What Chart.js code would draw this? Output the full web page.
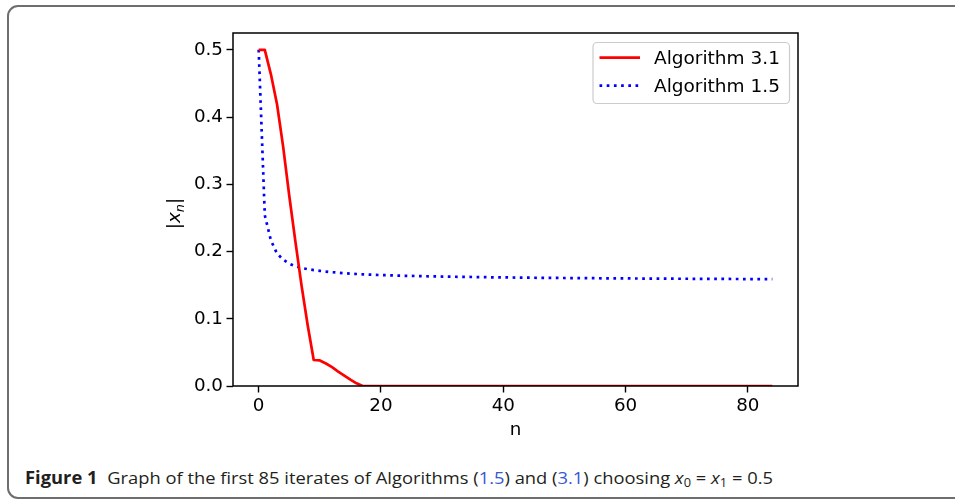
<!DOCTYPE html>
<html><head><meta charset="utf-8">
<script src="https://cdn.jsdelivr.net/npm/chart.js@4.4.0/dist/chart.umd.min.js"></script>
<style>
html,body{margin:0;padding:0;background:#fff;width:955px;height:501px;overflow:hidden;}
#frame{position:absolute;left:7px;top:5px;width:980px;height:494px;border:2px solid #6e6e6e;border-radius:11px;box-sizing:border-box;}
#c{position:absolute;left:0;top:0;}
#cap{position:absolute;left:25px;top:467.5px;font-family:"Liberation Sans Narrow","Open Sans",sans-serif;font-size:17px;line-height:20px;color:#231f20;white-space:nowrap;transform-origin:0 0;}
#cap b{margin-right:9px;}
#cap .bl{color:#3a56d4;}
#cap sub{font-size:70%;vertical-align:-0.25em;line-height:0;}
</style></head>
<body>
<div id="frame"></div>
<canvas id="c" width="955" height="460"></canvas>
<div id="cap"><b>Figure 1</b>Graph of the first 85 iterates of Algorithms (<span class="bl">1.5</span>) and (<span class="bl">3.1</span>) choosing <i>x</i><sub>0</sub> = <i>x</i><sub>1</sub> = 0.5</div>
<script>
// ---- data ----
const iterN = Array.from({length: 85}, (_, i) => i);
const alg31 = [0.5, 0.5, 0.4635, 0.419, 0.356, 0.283, 0.215, 0.150, 0.091, 0.0387,
  0.038, 0.0335, 0.028, 0.0215, 0.0155, 0.0095, 0.004, 0, 0, 0,
  0, 0, 0, 0, 0, 0, 0, 0, 0, 0,
  0, 0, 0, 0, 0, 0, 0, 0, 0, 0,
  0, 0, 0, 0, 0, 0, 0, 0, 0, 0,
  0, 0, 0, 0, 0, 0, 0, 0, 0, 0,
  0, 0, 0, 0, 0, 0, 0, 0, 0, 0,
  0, 0, 0, 0, 0, 0, 0, 0, 0, 0,
  0, 0, 0, 0, 0];
const alg15 = [0.500, 0.254, 0.2165, 0.197, 0.188, 0.182, 0.178, 0.1755, 0.1738, 0.1724,
  0.1712, 0.1702, 0.1693, 0.1685, 0.1678, 0.1672, 0.1666, 0.1661, 0.1657, 0.1653,
  0.1650, 0.1647, 0.1644, 0.1641, 0.1639, 0.1637, 0.1635, 0.1633, 0.1631, 0.1629,
  0.1628, 0.1626, 0.1625, 0.1623, 0.1622, 0.1621, 0.1620, 0.1619, 0.1617, 0.1616,
  0.1615, 0.1614, 0.1613, 0.1612, 0.1611, 0.1610, 0.1609, 0.1609, 0.1608, 0.1607,
  0.1606, 0.1605, 0.1605, 0.1604, 0.1603, 0.1603, 0.1602, 0.1601, 0.1601, 0.1600,
  0.1600, 0.1599, 0.1599, 0.1598, 0.1598, 0.1597, 0.1597, 0.1596, 0.1596, 0.1595,
  0.1595, 0.1594, 0.1594, 0.1593, 0.1593, 0.1592, 0.1592, 0.1592, 0.1591, 0.1591,
  0.1590, 0.1590, 0.1590, 0.1589, 0.1589];
const seriesLabels = ['Algorithm 3.1', 'Algorithm 1.5'];
const xTickValues = [0, 20, 40, 60, 80];
const yTickValues = [0.0, 0.1, 0.2, 0.3, 0.4, 0.5];

const FONT = 'DejaVu Sans';

const framePlugin = {
  id: 'frame',
  afterDatasetsDraw(chart) {
    const {ctx, chartArea: a} = chart;
    ctx.save();
    ctx.strokeStyle = '#000';
    ctx.lineWidth = 1.5;
    ctx.strokeRect(a.left, a.top, a.right - a.left, a.bottom - a.top);
    ctx.restore();
  }
};

const yTitlePlugin = {
  id: 'ytitle',
  afterDraw(chart) {
    const ctx = chart.ctx;
    ctx.save();
    ctx.translate(180, 213.5);
    ctx.rotate(-Math.PI / 2);
    ctx.fillStyle = '#000';
    ctx.textBaseline = 'alphabetic';
    const f = 18.5;
    const parts = [
      {t: '|', font: f + 'px "' + FONT + '"', dy: 0},
      {t: 'x', font: 'oblique ' + f + 'px "' + FONT + '"', dy: 0},
      {t: 'n', font: 'oblique ' + (f * 0.7) + 'px "' + FONT + '"', dy: 3.5},
      {t: '|', font: f + 'px "' + FONT + '"', dy: 0}
    ];
    let w = 0;
    parts.forEach(p => { ctx.font = p.font; p.w = ctx.measureText(p.t).width; w += p.w; });
    let x = -w / 2;
    parts.forEach(p => { ctx.font = p.font; ctx.fillText(p.t, x, p.dy); x += p.w; });
    ctx.restore();
  }
};

const legendPlugin = {
  id: 'mplLegend',
  afterDraw(chart) {
    const ctx = chart.ctx;
    const bx = 593, by = 42.5, bw = 196.5, bh = 61, r = 4;
    ctx.save();
    ctx.beginPath();
    ctx.moveTo(bx + r, by);
    ctx.arcTo(bx + bw, by, bx + bw, by + bh, r);
    ctx.arcTo(bx + bw, by + bh, bx, by + bh, r);
    ctx.arcTo(bx, by + bh, bx, by, r);
    ctx.arcTo(bx, by, bx + bw, by, r);
    ctx.closePath();
    ctx.fillStyle = 'rgba(255,255,255,0.8)';
    ctx.fill();
    ctx.strokeStyle = '#cccccc';
    ctx.lineWidth = 1.2;
    ctx.stroke();
    const rows = [57.7, 85.7];
    chart.data.datasets.forEach((ds, i) => {
      const y = rows[i];
      ctx.beginPath();
      ctx.strokeStyle = ds.borderColor;
      ctx.lineWidth = ds.borderWidth;
      ctx.lineCap = 'butt';
      ctx.setLineDash(ds.borderDash || []);
      ctx.moveTo(599.5, y);
      ctx.lineTo(640, y);
      ctx.stroke();
      ctx.setLineDash([]);
      ctx.fillStyle = '#000';
      ctx.font = '18.5px "' + FONT + '"';
      ctx.textBaseline = 'alphabetic';
      ctx.fillText(ds.label, 654, y + 6.7);
    });
    ctx.restore();
  }
};

new Chart(document.getElementById('c'), {
  type: 'line',
  data: {
    datasets: [
      {label: seriesLabels[0], data: iterN.map((n, i) => ({x: n, y: alg31[i]})),
       borderColor: '#ff0000', borderWidth: 2.7, pointRadius: 0, fill: false, tension: 0, borderCapStyle: 'butt', borderJoinStyle: 'round'},
      {label: seriesLabels[1], data: iterN.map((n, i) => ({x: n, y: alg15[i]})),
       borderColor: '#0000ff', borderWidth: 2.7, borderDash: [2.7, 4.5], pointRadius: 0, fill: false, tension: 0, borderCapStyle: 'butt'}
    ]
  },
  options: {
    responsive: false,
    animation: false,
    events: [],
    layout: {padding: {left: 150, right: 157, top: 33, bottom: 0}},
    plugins: {legend: {display: false}, tooltip: {enabled: false}, title: {display: false}},
    scales: {
      x: {
        type: 'linear', min: -4.2, max: 88.2,
        afterBuildTicks: s => { s.ticks = xTickValues.map(v => ({value: v})); },
        afterFit: s => { s.height = 74; },
        grid: {display: true, drawOnChartArea: false, drawTicks: true, tickLength: 6.5, tickWidth: 1.4, tickColor: '#000'},
        border: {display: false},
        ticks: {color: '#000', font: {family: FONT, size: 18.3}, padding: 2.5, maxRotation: 0, autoSkip: false, callback: v => String(v)},
        title: {display: true, text: 'n', color: '#000', font: {family: FONT, size: 18.3}, padding: {top: 0, bottom: 18.6}}
      },
      y: {
        type: 'linear', min: 0, max: 0.525,
        afterBuildTicks: s => { s.ticks = yTickValues.map(v => ({value: v})); },
        afterFit: s => { s.width = 83; },
        grid: {display: true, drawOnChartArea: false, drawTicks: true, tickLength: 6.5, tickWidth: 1.4, tickColor: '#000'},
        border: {display: false},
        ticks: {color: '#000', font: {family: FONT, size: 18.3}, padding: 3.5, autoSkip: false, callback: v => v.toFixed(1)},
        title: {display: false}
      }
    }
  },
  plugins: [framePlugin, yTitlePlugin, legendPlugin]
});

// fit caption width to the reference
(function(){
  const cap = document.getElementById('cap');
  const w = cap.getBoundingClientRect().width;
  const target = 748;
  cap.style.transform = 'scaleX(' + (target / w) + ')';
})();
</script>
</body></html>
